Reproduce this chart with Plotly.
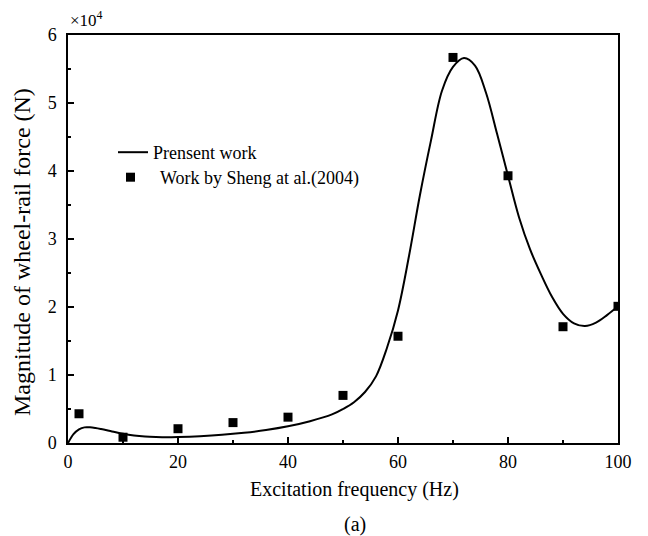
import plotly.graph_objects as go

# Present model: wheel-rail force magnitude (N) vs excitation frequency (Hz)
curve_freq = [0, 1, 2, 3, 4, 5, 6, 8, 10, 12, 14, 16, 18, 20, 24, 28, 32, 36, 40,
              44, 48, 50, 52, 54, 56, 58, 60, 62, 64, 66, 68, 70, 72, 74, 76, 78,
              80, 82, 84, 86, 88, 90, 92, 94, 96, 98, 100]
curve_force = [0, 1300, 2000, 2300, 2300, 2200, 2050, 1700, 1350, 1100, 950, 880,
               850, 880, 1000, 1200, 1500, 1900, 2450, 3200, 4200, 5000, 6000,
               7500, 9800, 14000, 19500, 27500, 36500, 44500, 51800, 55300, 56600,
               55500, 51500, 45500, 39300, 33200, 28500, 24800, 21500, 19000,
               17600, 17200, 17700, 18800, 20100]

# Reference results (Sheng et al., 2004)
sheng_freq = [2, 10, 20, 30, 40, 50, 60, 70, 80, 90, 100]
sheng_force = [4300, 850, 2100, 3000, 3800, 7000, 15700, 56700, 39300, 17100, 20100]

y_ticks = [0, 10000, 20000, 30000, 40000, 50000, 60000]
y_tick_text = ["0", "1", "2", "3", "4", "5", "6"]
x_ticks = [0, 20, 40, 60, 80, 100]

FONT = "Liberation Serif"

fig = go.Figure()
fig.add_trace(go.Scatter(
    x=curve_freq, y=curve_force, mode="lines", name="Prensent work",
    line=dict(color="black", width=2, shape="spline", smoothing=1),
    legend="legend", showlegend=True,
))
fig.add_trace(go.Scatter(
    x=sheng_freq, y=sheng_force, mode="markers", name="Work by Sheng at al.(2004)",
    marker=dict(symbol="square", size=9, color="black"),
    legend="legend2", showlegend=True,
))

axis_common = dict(
    showline=True, linecolor="black", linewidth=1.5, mirror=True,
    ticks="inside", ticklen=6, tickwidth=1.5, tickcolor="black",
    showgrid=False, zeroline=False,
    tickfont=dict(family=FONT, size=18, color="black"),
)
minor_common = dict(ticks="inside", ticklen=3.5, tickwidth=1.5, tickcolor="black")

fig.update_layout(
    width=648, height=536,
    margin=dict(l=68, r=30, t=35, b=93),
    paper_bgcolor="white", plot_bgcolor="white",
    font=dict(family=FONT, color="black"),
    showlegend=True,
    xaxis=dict(range=[0, 100], tickvals=x_ticks, ticklabelstandoff=2,
               minor=dict(dtick=10, **minor_common), **axis_common),
    yaxis=dict(range=[0, 60000], tickvals=y_ticks, ticktext=y_tick_text,
               ticklabelstandoff=6,
               minor=dict(dtick=5000, **minor_common), **axis_common),
    legend=dict(x=(113 - 68) / 550, y=(443 - 134) / 408, xanchor="left", yanchor="top",
                bgcolor="rgba(0,0,0,0)", borderwidth=0, visible=True,
                font=dict(family=FONT, size=18, color="black")),
    legend2=dict(x=(101 - 68) / 550, y=(443 - 159) / 408, xanchor="left", yanchor="top",
                 bgcolor="rgba(0,0,0,0)", borderwidth=0, itemwidth=49, visible=True,
                 font=dict(family=FONT, size=18, color="black")),
    annotations=[
        dict(text="Excitation frequency (Hz)", xref="paper", yref="paper",
             x=(354 - 68) / 550, y=(443 - 489) / 408, xanchor="center", yanchor="middle",
             showarrow=False, font=dict(family=FONT, size=20, color="black")),
        dict(text="Magnitude of wheel-rail force (N)", xref="paper", yref="paper",
             x=(22 - 68) / 550, y=(443 - 252) / 408, xanchor="center", yanchor="middle",
             textangle=-90, showarrow=False,
             font=dict(family=FONT, size=24, color="black")),
        dict(text="(a)", xref="paper", yref="paper",
             x=(355 - 68) / 550, y=(443 - 524) / 408, xanchor="center", yanchor="middle",
             showarrow=False, font=dict(family=FONT, size=20, color="black")),
        dict(text="×10<sup>4</sup>", xref="paper", yref="paper",
             x=0, y=1.0, xanchor="left", yanchor="bottom", yshift=3,
             showarrow=False, font=dict(family=FONT, size=17, color="black")),
    ],
)

fig.write_html("out.html")
